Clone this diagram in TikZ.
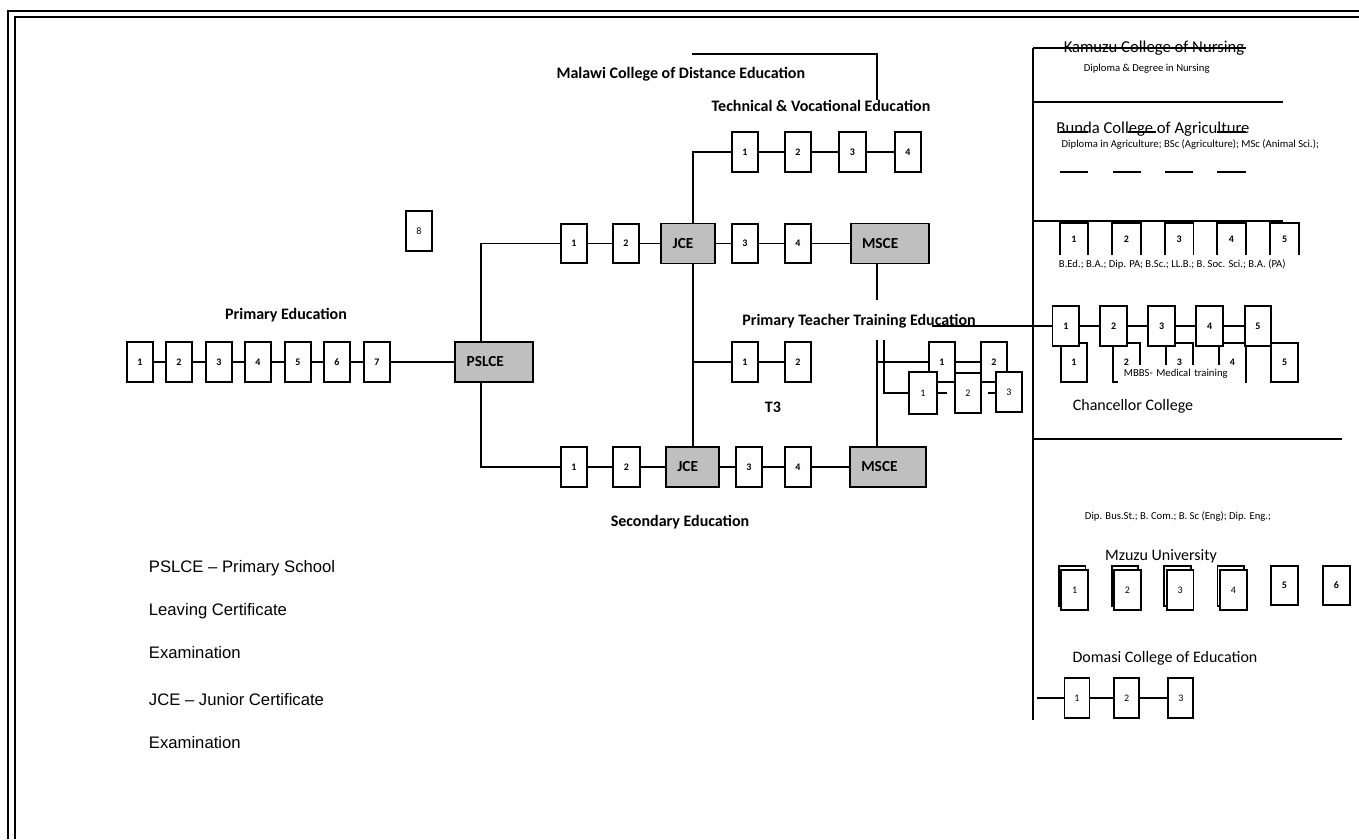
\documentclass[tikz,border=0pt]{standalone}
\usepackage{fontspec}
\setmainfont{Carlito}
\newfontfamily\legendfont{Liberation Sans}
\usepackage{tikz}
\usetikzlibrary{positioning}
\definecolor{examgray}{gray}{0.75}

\begin{document}
\begin{tikzpicture}[x=0.75pt,y=-0.75pt,line width=1.4pt,
  yr/.style={draw,fill=white,minimum width=20pt,minimum height=29.5pt,inner sep=0pt,font=\bfseries\fontsize{7.5}{8}\selectfont},
  yrthin/.style={yr,font=\fontsize{7.5}{8}\selectfont},
  exam/.style={draw,fill=examgray,minimum height=30pt,inner xsep=8.5pt,text width=#1,align=left,font=\bfseries\fontsize{11.5}{13}\selectfont},
  head/.style={font=\bfseries\fontsize{12}{14}\selectfont,inner sep=0pt},
  coll/.style={font=\fontsize{12}{14}\selectfont,inner sep=0pt},
  note/.style={font=\fontsize{8}{9}\selectfont,inner sep=0pt},
  legend/.style={font=\legendfont\fontsize{12.5}{14}\selectfont,anchor=west,inner sep=0pt}]
\useasboundingbox (0,0) rectangle (1359,839);
% page frame
\draw[line width=2pt] (8,839) -- (8,11) -- (1359,11);
\draw[line width=1.3pt] (15,839) -- (15,17) -- (1359,17);

% primary
\foreach \x/\n in {140/1,179/2,219/3,258/4,298/5,337/6,377/7}
  \node[yr] (p\n) at (\x,362) {\n};
\foreach \a/\b in {1/2,2/3,3/4,4/5,5/6,6/7}
  \draw (p\a) -- (p\b);
\node[exam=41pt] (pslce) at (494,362) {PSLCE};
\draw (p7) -- (pslce);
\node[head] (primlabel) at (286,315) {Primary Education};
\node[yrthin] (p8) at (419,231) {8};

% secondary
\node[yr] (s1) at (574,243.5) {1};
\node[yr] (s2) at (626,243.5) {2};
\node[exam=23pt] (jce1) at (688,243.5) {JCE};
\node[yr] (s3) at (745,243.5) {3};
\node[yr] (s4) at (798,243.5) {4};
\node[exam=42pt] (msce1) at (890,243.5) {MSCE};
\draw (s1) -- (s2) -- (jce1) -- (s3) -- (s4) -- (msce1);
\node[yr] (t1) at (574,467) {1};
\node[yr] (t2) at (626.5,467) {2};
\node[exam=23pt] (jce2) at (692.7,467) {JCE};
\node[yr] (t3) at (749,467) {3};
\node[yr] (t4) at (798,467) {4};
\node[exam=40pt] (msce2) at (888,467) {MSCE};
\draw (t1) -- (t2) -- (jce2) -- (t3) -- (t4) -- (msce2);
\draw (pslce.north west) ++(27,0) |- (s1);
\draw (pslce.south west) ++(27,0) |- (t1);
\node[head] (seclabel) at (680,522) {Secondary Education};

% technical & vocational
\foreach \x/\n in {745/1,798/2,852.5/3,908/4}
  \node[yr] (v\n) at (\x,152) {\n};
\draw (v1) -- (v2) -- (v3) -- (v4);
\draw (v1.west) -| (jce1.north -| jce2.north);
\draw (jce1.south -| jce2.north) -- (jce2.north);
\node[head] (tvlabel) at (821,105.7) {Technical \& Vocational Education};
\node[head] (mcdelabel) at (680.8,74.3) {Malawi College of Distance Education};
\coordinate (mcdeA) at (692.3,54);
\coordinate (mcdeB) at (876.7,100);
\draw (mcdeA) -| (mcdeB);

% T3
\node[yr] (r1) at (745,362) {1};
\node[yr] (r2) at (798,362) {2};
\draw (r1.west -| jce2.north) -- (r1) -- (r2);
\node[head] (t3label) at (773,407) {T3};

% primary teacher training
\coordinate (pttup) at (876.7,300);
\coordinate (pttdown) at (876.7,340);
\coordinate (pttbranch) at (884.3,340);
\draw (msce1.south -| pttup) -- (pttup);
\draw (pttdown) -- (pttdown |- msce2.north);
\node[head] (pttlabel) at (859,321.7) {Primary Teacher Training Education};
\node[yr] (w1) at (942,362) {1};
\node[yr] (w2) at (994,362) {2};
\draw (pttdown |- w1) -- (w1) -- (w2);
\node[yrthin,minimum width=21pt,minimum height=31.5pt] (q1) at (923,393) {1};
\node[yrthin] (q2) at (968,393) {2};
\node[yrthin] (q3) at (1009,392) {3};
\draw (pttbranch) |- (q1.west);
\coordinate (stubA) at (947,393);
\coordinate (stubB) at (988,393);
\draw (q1.east) -- (stubA);
\draw (stubB) -- (stubB -| q3.west);
\coordinate (pttright) at (931.7,326);

% university column
\draw (1033,48) -- (1033,720);
\node[coll,font=\fontsize{12.5}{14}\selectfont,anchor=base] (kcn) at (1154,52) {Kamuzu College of Nursing};
\draw (1033,48) -- (1246,48);
\node[note,anchor=base] (kcnnote) at (1146.7,71) {Diploma \& Degree in Nursing};
\draw (1033,101.7) -- (1283,101.7);
\node[coll,font=\fontsize{12.5}{14}\selectfont,anchor=base] (bca) at (1153,133) {Bunda College of Agriculture};
\foreach \a/\b in {1060/1088,1128/1156,1217/1246}
  \draw (\a,132) -- (\b,132);
\node[note,anchor=base west] (bcanote) at (1060.7,147) {Diploma in Agriculture; BSc (Agriculture); MSc (Animal Sci.);};
\foreach \a/\b in {1060/1088,1113/1141,1165/1193,1217/1246}
  \draw (\a,171.7) -- (\b,171.7);
\draw (1033,220.7) -- (1283,220.7);

% chancellor college
\foreach \x/\n in {1074/1,1126.4/2,1179.2/3,1231.5/4,1284.6/5} {
  \node[yr,draw=none,fill=none,minimum height=22.5pt] (u\n) at (\x,239) {\n};
  \draw (u\n.south west) |- (u\n.north east) -- (u\n.south east);
}
\node[note,anchor=base west] (ccnote) at (1058,267) {B.Ed.; B.A.; Dip. PA; B.Sc.; LL.B.; B. Soc. Sci.; B.A. (PA)};
\foreach \x/\n in {1074/1,1126.5/2,1179.3/3,1232.3/4,1284.6/5}
  \node[yr] (d\n) at (\x,362.3) {\n};
\foreach \x/\n in {1065.8/1,1113.7/2,1161.7/3,1209.7/4,1257.9/5}
  \node[yr] (c\n) at (\x,326) {\n};
\draw (pttright) -- (c1) -- (c2) -- (c3) -- (c4) -- (c5);
\node[note,fill=white,anchor=west,minimum height=13.5pt,text width=86pt,inner xsep=4.5pt,align=left] (mbbs) at (1117,374) {MBBS- Medical training};
\node[coll] (cclabel) at (1133,406) {Chancellor College};
\draw (1033,439) -- (1342,439);

% mzuzu university
\node[note] (mzunote) at (1178,517) {Dip. Bus.St.; B. Com.; B. Sc (Eng); Dip. Eng.;};
\node[coll] (mzulabel) at (1161,556) {Mzuzu University};
\foreach \x/\n in {1073.7/1,1126.4/2,1179.2/3,1232.3/4} {
  \node[yrthin] (mb\n) at (\x-1.5,586) {};
  \node[yrthin,minimum height=30.5pt] (m\n) at (\x+1,590) {\n};
}
\node[yr] (m5) at (1284.4,585.5) {5};
\node[yr] (m6) at (1336.5,585.5) {6};

% domasi college
\node[coll] (dcelabel) at (1165,658) {Domasi College of Education};
\coordinate (domasiin) at (1037,698);
\foreach \x/\n in {1077/1,1126.7/2,1180.8/3}
  \node[yrthin,minimum width=18.75pt,minimum height=30pt] (o\n) at (\x,698) {\n};
\draw (domasiin) -- (o1) -- (o2) -- (o3);

% legend
\node[legend] (leg1) at (148,568) {PSLCE – Primary School};
\node[legend] (leg2) at (148,611) {Leaving Certificate};
\node[legend] (leg3) at (148,653) {Examination};
\node[legend] (leg4) at (148,700) {JCE – Junior Certificate};
\node[legend] (leg5) at (148,743) {Examination};
\end{tikzpicture}
\end{document}
